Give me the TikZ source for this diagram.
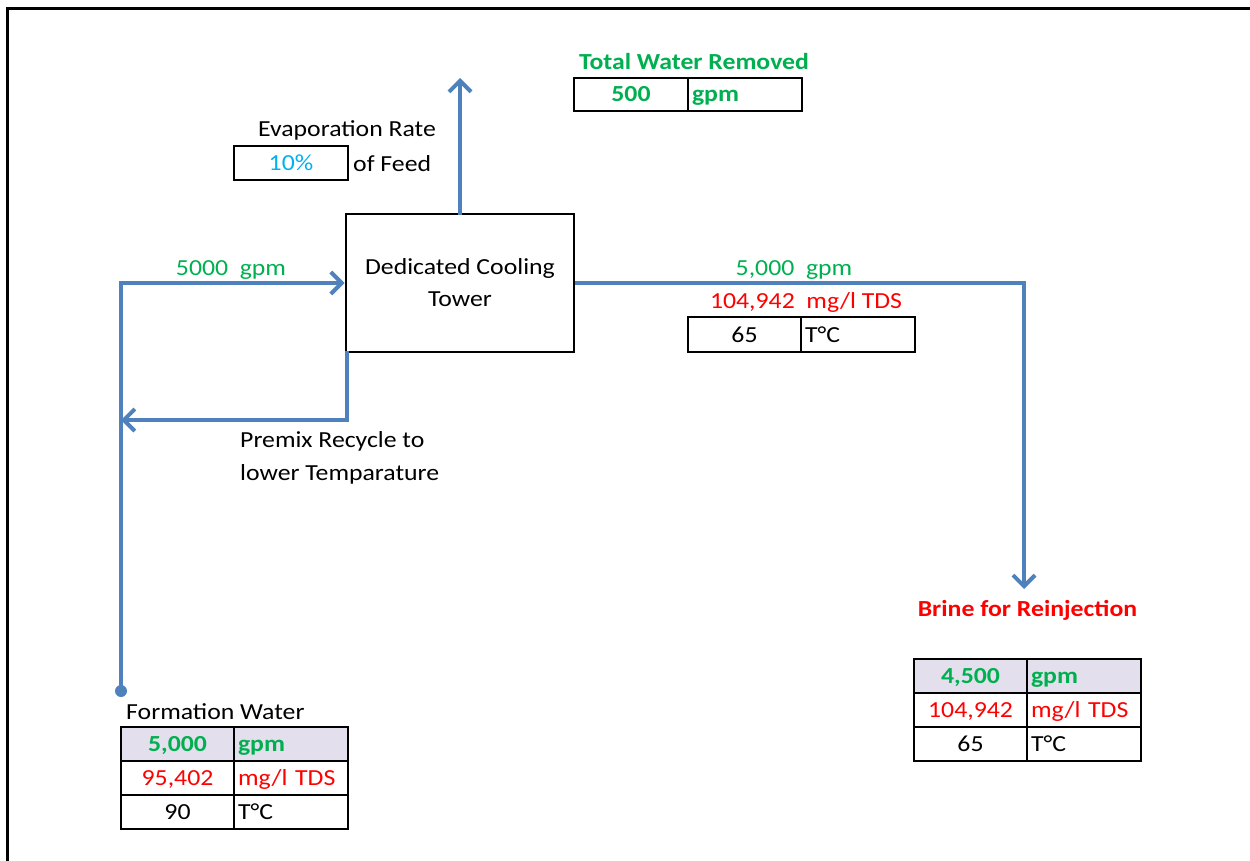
\documentclass[tikz,border=0pt]{standalone}
\usepackage{fontspec}
\setmainfont{Carlito}[FakeStretch=1.12]
\usetikzlibrary{arrows.meta}
\definecolor{fgreen}{HTML}{00B050}
\definecolor{fred}{HTML}{FF0000}
\definecolor{fblue}{HTML}{4F81BD}
\definecolor{fcyan}{HTML}{00B0F0}
\definecolor{flav}{HTML}{E4DFEC}
\begin{document}
\begin{tikzpicture}[x=1pt,y=-1pt,
  every node/.style={font=\fontsize{23}{32}\selectfont},
  flow/.style={draw=fblue, line width=4pt, line join=miter, -{Straight Barb[length=11pt,width=22pt]}},
  tower/.style={draw, line width=2.8pt, minimum width=228pt, minimum height=138pt, align=center, inner sep=0pt, outer sep=0pt},
  cellc/.style={draw, line width=2pt, minimum width=113pt, minimum height=34pt, inner sep=0pt, outer sep=0pt, text height=15pt, text depth=0pt, anchor=north west},
  celll/.style={draw, line width=2pt, text width=106pt, inner xsep=4pt, inner ysep=0pt, outer sep=0pt, text height=15pt, text depth=0pt, minimum height=34pt, align=left, anchor=north west},
  bf/.style={font=\fontsize{23}{32}\selectfont\bfseries},
  lbl/.style={anchor=base, inner sep=0pt},
  hdr/.style={anchor=base, inner sep=0pt, font=\fontsize{23}{32}\selectfont\bfseries}
]
\useasboundingbox (0,0) rectangle (1250,861);
% page frame
\draw[line width=2.5pt] (1250,8.5) -- (7.5,8.5) -- (7.5,861);

% tower
\node[tower] (tower) at (460,283) {Dedicated Cooling\\Tower};

% evaporation
\coordinate (evtip) at (460,78);
\draw[flow] ([yshift=-1.4pt]tower.north) -- (evtip);
\node[lbl] (evlbl) at (347,137) {Evaporation Rate};
\node[cellc, minimum width=114pt, text=fcyan] (evbox) at (234,146) {10\%};
\node[lbl, anchor=base west] (evfeed) at (353,172) {of Feed};

% total water removed
\node[hdr, text=fgreen] (twr) at (694,70) {Total Water Removed};
\node[cellc, minimum width=114pt, minimum height=33pt, text=fgreen, bf] (tw1) at (574,78) {500};
\node[celll, minimum height=33pt, text=fgreen, bf] (tw2) at (tw1.north east) {gpm};

% inlet
\coordinate (fw) at (121,691);
\coordinate (inc) at (121,283);
\fill[fblue] (fw) circle (6pt);
\draw[flow] (fw) -- (inc) -- ([xshift=-1.4pt]tower.west);
\node[lbl, text=fgreen] (inlbl) at (231,275) {5000~~gpm};

% recycle
\coordinate (rc1) at ([xshift=1pt,yshift=1.4pt]tower.south west);
\coordinate (rc2) at (347,420);
\coordinate (rc3) at (121,420);
\draw[flow] (rc1) -- (rc2) -- (rc3);
\node[anchor=base west, inner sep=0pt] (pr1) at (240,447) {Premix Recycle to};
\node[anchor=base west, inner sep=0pt] (pr2) at (240,480) {lower Temparature};

% outlet
\coordinate (oc) at (1024,283);
\coordinate (otip) at (1024,589);
\draw[flow] ([xshift=1.4pt]tower.east) -- (oc) -- (otip);
\node[lbl, text=fgreen] (olbl1) at (794,275) {5,000~~gpm};
\node[lbl, text=fred] (olbl2) at (806,308) {104,942~~mg/l TDS};
\node[cellc, minimum height=35pt] (ot1) at (688,317) {65};
\node[celll, minimum height=35pt] (ot2) at (ot1.north east) {T°C};

% brine
\node[hdr, text=fred] (brl) at (1027.5,616) {Brine for Reinjection};
\node[cellc, fill=flav, text=fgreen, bf] (b11) at (914,659) {4,500};
\node[celll, fill=flav, text=fgreen, bf] (b12) at (b11.north east) {gpm};
\node[cellc, text=fred] (b21) at (b11.south west) {104,942};
\node[celll, text=fred] (b22) at (b21.north east) {mg/l TDS};
\node[cellc] (b31) at (b21.south west) {65};
\node[celll] (b32) at (b31.north east) {T°C};

% formation water
\node[anchor=base west, inner sep=0pt] (fwl) at (126,719) {Formation Water};
\node[cellc, fill=flav, text=fgreen, bf] (f11) at (121,727) {5,000};
\node[celll, fill=flav, text=fgreen, bf] (f12) at (f11.north east) {gpm};
\node[cellc, text=fred] (f21) at (f11.south west) {95,402};
\node[celll, text=fred] (f22) at (f21.north east) {mg/l TDS};
\node[cellc] (f31) at (f21.south west) {90};
\node[celll] (f32) at (f31.north east) {T°C};
\end{tikzpicture}
\end{document}
